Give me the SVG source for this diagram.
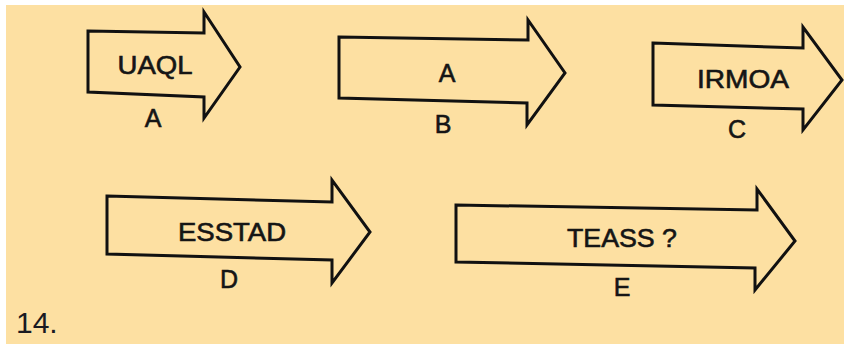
<svg xmlns="http://www.w3.org/2000/svg" width="844" height="344" viewBox="0 0 844 344">
<style>
.arrow{fill:none;stroke:#111;stroke-width:3;stroke-linejoin:miter}
.t{font-family:"Liberation Sans",Arial,sans-serif;font-size:25px;fill:#151515;text-anchor:middle;stroke:#151515;stroke-width:0.6}
.num{font-family:"Liberation Sans",Arial,sans-serif;font-size:30px;fill:#1a1a22}
</style>
<rect x="0" y="0" width="844" height="344" fill="#ffffff"/>
<rect x="6" y="5" width="838" height="339" fill="#fde0a2"/>
<g id="nodeA">
<polygon class="arrow" points="88,31 204,33 204,12 240,67 204,118 204,97 88,92"/>
<text class="t" x="155" y="74" textLength="75" lengthAdjust="spacingAndGlyphs">UAQL</text>
<text class="t" x="153" y="127">A</text>
</g>
<g id="nodeB">
<polygon class="arrow" points="339,37 528,40 528,20 565,73 527,125 527,103 339,98"/>
<text class="t" x="447" y="82">A</text>
<text class="t" x="443" y="133">B</text>
</g>
<g id="nodeC">
<polygon class="arrow" points="653,43 803,48 803,27 842,80 803,130 803,109 653,105"/>
<text class="t" x="743" y="88" textLength="92" lengthAdjust="spacingAndGlyphs">IRMOA</text>
<text class="t" x="737" y="138">C</text>
</g>
<g id="nodeD">
<polygon class="arrow" points="107,196 332,202 332,180 370,232 332,283 332,260 107,254"/>
<text class="t" x="232" y="241" textLength="108" lengthAdjust="spacingAndGlyphs">ESSTAD</text>
<text class="t" x="229" y="288">D</text>
</g>
<g id="nodeE">
<polygon class="arrow" points="456,205 757,210 757,189 795,241 755,290 755,268 456,262"/>
<text class="t" x="622" y="247" textLength="110" lengthAdjust="spacingAndGlyphs">TEASS ?</text>
<text class="t" x="622" y="296">E</text>
</g>
<g id="connectors"></g>
<text class="num" x="16" y="333">14.</text>
</svg>
